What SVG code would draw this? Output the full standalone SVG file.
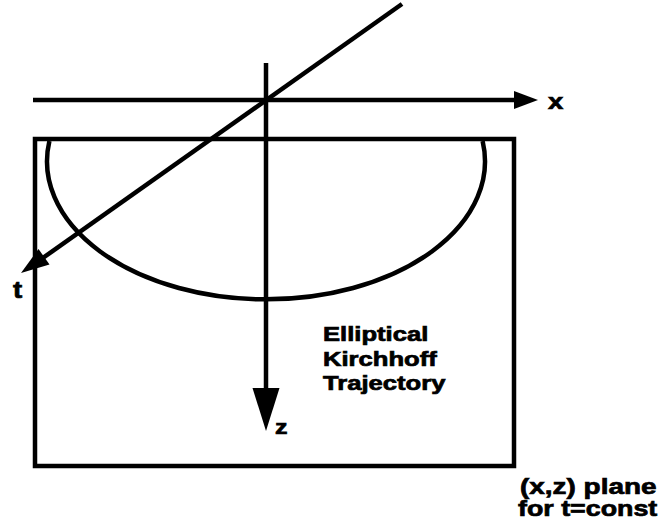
<svg xmlns="http://www.w3.org/2000/svg" width="666" height="521" viewBox="0 0 666 521">
<style>
.ln{fill:none;stroke:#000;stroke-width:4.5}
.ah{fill:#000;stroke:none}
.lb{font-family:"Liberation Sans",Arial,sans-serif;font-weight:bold;fill:#000;stroke:#000;stroke-width:0.7}
</style>
<rect width="666" height="521" fill="#fff"/>
<g id="plane">
<rect class="ln" x="35" y="139" width="479" height="327"/>
</g>
<g id="trajectory">
<path class="ln" d="M 49.4 141 A 219 138 0 1 0 482.6 141"/>
</g>
<g id="connectors">
<g id="x-axis">
<line class="ln" x1="33" y1="100" x2="520" y2="100"/>
<polygon class="ah" points="538,100 514,91 514,109"/>
</g>
<g id="z-axis">
<line class="ln" x1="266" y1="63" x2="266" y2="395"/>
<polygon class="ah" points="266,431 252.5,388 279.5,388"/>
</g>
<g id="t-axis">
<line class="ln" x1="402" y1="4" x2="40" y2="260"/>
<polygon class="ah" points="21,273 49.5,264.5 38.5,249"/>
</g>
</g>
<g id="labels">
<text class="lb" transform="translate(548,109) scale(1.25,1)" font-size="22">x</text>
<text class="lb" transform="translate(275,434) scale(1.25,1)" font-size="20">z</text>
<text class="lb" transform="translate(13,298) scale(1.2,1)" font-size="23">t</text>
<text class="lb" font-size="20" transform="translate(323,341) scale(1.28,1)">Elliptical</text>
<text class="lb" font-size="20" transform="translate(323,366) scale(1.28,1)">Kirchhoff</text>
<text class="lb" font-size="20" transform="translate(323,390) scale(1.28,1)">Trajectory</text>
<text class="lb" font-size="22" transform="translate(520,494) scale(1.27,1)">(x,z) plane</text>
<text class="lb" font-size="22" transform="translate(518,516) scale(1.22,1)">for t=const</text>
</g>
</svg>
